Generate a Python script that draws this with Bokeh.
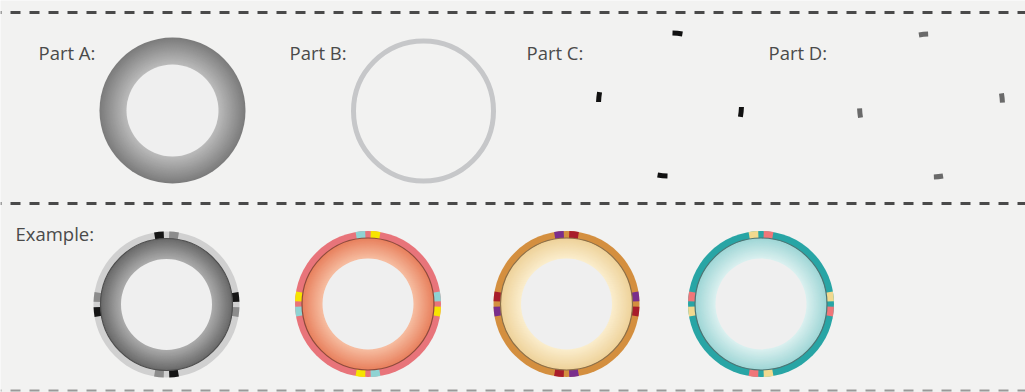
import numpy as np
from bokeh.plotting import figure
from bokeh.models import Range1d, Span
from bokeh.core.properties import value
from bokeh.embed import file_html
from bokeh.resources import INLINE

# ---------------- data ----------------
part_labels = ["Part A:", "Part B:", "Part C:", "Part D:"]
example_label = "Example:"

part_c_angles = [84, 174, 264, 354]      # degrees, black marks
part_d_angles = [96, 186, 276, 6]        # degrees, grey marks

example_band = ["#d0d0d0", "#e8747a", "#d48f3f", "#28a5a5"]
example_ring_outer = ["#6a6a6a", "#e8815e", "#eed29a", "#9fd6d6"]
example_ring_inner = ["#adadad", "#f7bfa3", "#fbeece", "#dcf1f0"]
example_edge = ["#4f4f4f", "#8e4b3c", "#8c6f48", "#4d7473"]
example_ccw_colors = ["#151515", "#8fd3d3", "#7a2e8c", "#f1d98f"]
example_cw_colors = ["#8c8c8c", "#f7e400", "#a81d2b", "#f07679"]
example_ccw_angles = [6, 96, 186, 276]
example_cw_angles = [354, 84, 174, 264]

# ---------------- layout ----------------
W, H = 1025, 392
BG = "#f2f2f1"
HOLE = "#efefef"
TXT = "#4a4a4a"


def Y(py):
    return H - py


label_x = [38, 289, 526, 768]
label_py = 52
top_centers = [(172, 110), (423, 110.5), (669.5, 104), (930.5, 105)]
ex_centers = [(166, 304), (367.5, 303.5), (566, 303.5), (760.5, 303.5)]

p = figure(width=W, height=H, x_range=Range1d(0, W), y_range=Range1d(0, H),
           output_backend="svg", toolbar_location=None, min_border=0,
           background_fill_color=BG, border_fill_color=BG,
           outline_line_color=None)
p.axis.visible = False
p.grid.visible = False

# dashed separators
for py, col, lw in [(12, "#4a4a4a", 3), (203, "#4a4a4a", 3), (390, "#9a9a9a", 2)]:
    p.add_layout(Span(location=Y(py), dimension="width", line_color=col,
                      line_width=lw, line_dash="10 9", line_dash_offset=-10))


def hex2rgb(h):
    h = h.lstrip("#")
    return np.array([int(h[i:i + 2], 16) for i in (0, 2, 4)], float)


def mix(c1, c2, t):
    a, b = hex2rgb(c1), hex2rgb(c2)
    c = a + (b - a) * t
    return "#%02x%02x%02x" % tuple(int(round(v)) for v in c)


def gradient_ring(cx, cy, r_out, r_in, c_out, c_in, steps=28):
    radii = np.linspace(r_out, r_in, steps)
    cols = [mix(c_out, c_in, (r_out - r) / (r_out - r_in)) for r in radii]
    p.circle(x=[cx] * steps, y=[Y(cy)] * steps, radius=list(radii),
             fill_color=cols, line_color=None)
    p.circle(x=[cx], y=[Y(cy)], radius=r_in, fill_color=HOLE, line_color=None)


# labels
p.text(x=label_x, y=[Y(label_py)] * 4, text=part_labels,
       text_font=value("Open Sans"), text_font_size="18.5px", text_color=TXT,
       text_baseline="middle", text_align="left")
p.text(x=[15], y=[Y(233)], text=[example_label],
       text_font=value("Open Sans"), text_font_size="18.5px", text_color=TXT,
       text_baseline="middle", text_align="left")

# Part A
cx, cy = top_centers[0]
gradient_ring(cx, cy, 73, 46, "#7c7c7c", "#bcbcbc")

# Part B
cx, cy = top_centers[1]
p.circle(x=[cx], y=[Y(cy)], radius=70, fill_color=None,
         line_color="#c6c7c9", line_width=5)

# Part C
cx, cy = top_centers[2]
a = np.radians(part_c_angles)
hw = np.radians(4.0)
p.annular_wedge(x=[cx] * 4, y=[Y(cy)] * 4, inner_radius=69, outer_radius=74,
                start_angle=list(a - hw), end_angle=list(a + hw),
                fill_color="#111111", line_color=None)

# Part D
cx, cy = top_centers[3]
a = np.radians(part_d_angles)
hw = np.radians(3.7)
p.annular_wedge(x=[cx] * 4, y=[Y(cy)] * 4, inner_radius=69, outer_radius=74,
                start_angle=list(a - hw), end_angle=list(a + hw),
                fill_color="#6a6a6a", line_color=None)

# Examples
hw = np.radians(3.8)
for i, (cx, cy) in enumerate(ex_centers):
    p.circle(x=[cx], y=[Y(cy)], radius=73, fill_color=example_band[i],
             line_color=None)
    for angs, col in [(example_ccw_angles, example_ccw_colors[i]),
                      (example_cw_angles, example_cw_colors[i])]:
        a = np.radians(angs)
        p.annular_wedge(x=[cx] * 4, y=[Y(cy)] * 4, inner_radius=65.5,
                        outer_radius=73, start_angle=list(a - hw),
                        end_angle=list(a + hw), fill_color=col,
                        line_color=None)
    gradient_ring(cx, cy, 66, 45.5, example_ring_outer[i],
                  example_ring_inner[i], steps=24)
    p.circle(x=[cx], y=[Y(cy)], radius=66, fill_color=None,
             line_color=example_edge[i], line_width=1.2)

open("out.html", "w").write(file_html(p, INLINE))
